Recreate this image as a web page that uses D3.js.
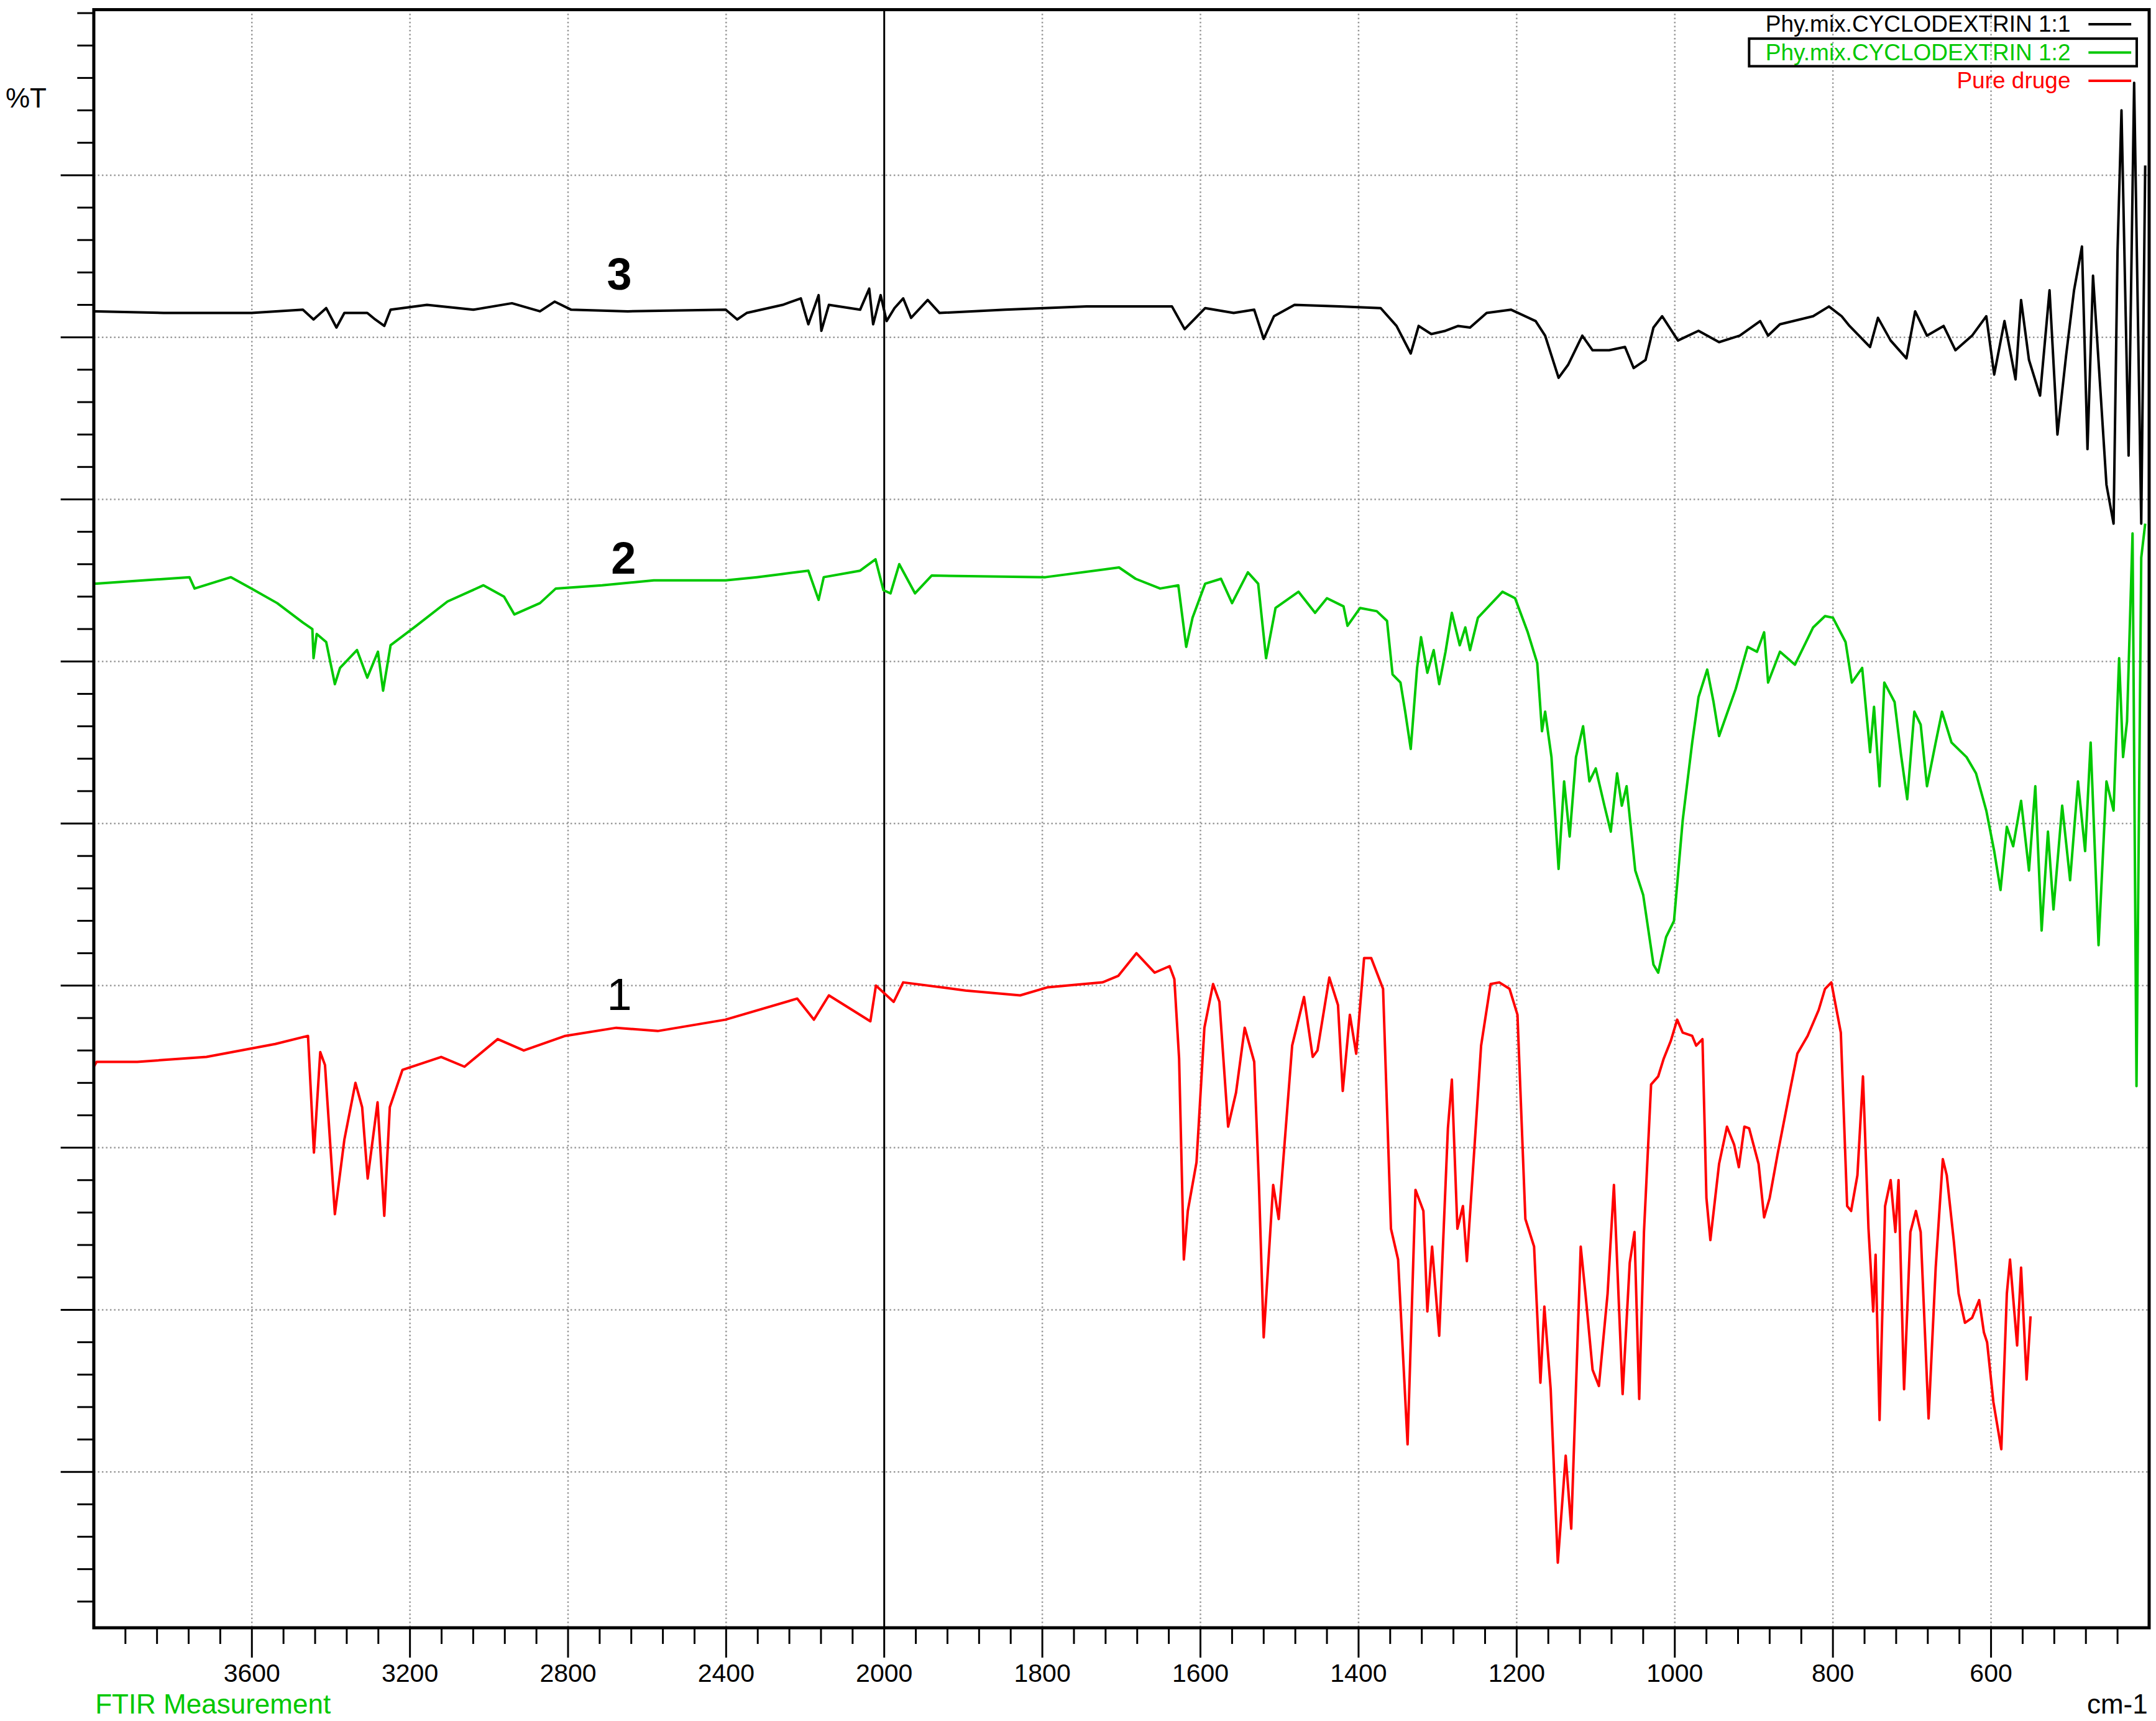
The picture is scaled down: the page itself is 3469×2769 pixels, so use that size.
<!DOCTYPE html>
<meta charset="utf-8">
<style>
  body { margin: 0; background: #fff; }
  text { font-family: "Liberation Sans", Arial, sans-serif; }
</style>
<body>
<svg id="chart" width="3469" height="2769"></svg>
<script src="https://cdnjs.cloudflare.com/ajax/libs/d3/7.8.5/d3.min.js"></script>
<script>
// spectra as [wavenumber cm-1, %T]
var pureDrug = [[4000,35.0],[3993,35.3],[3890,35.3],[3715,35.6],[3541,36.4],[3458,36.9],[3443,29.7],[3427,35.9],[3415,35.1],[3390,25.9],[3366,30.5],[3338,34.0],[3321,32.5],[3307,28.1],[3282,32.8],[3265,25.8],[3251,32.5],[3219,34.8],[3121,35.6],[3062,35.0],[2978,36.7],[2912,36.0],[2807,36.9],[2678,37.4],[2573,37.2],[2402,37.9],[2220,39.2],[2178,37.9],[2140,39.4],[2035,37.8],[2021,40.0],[1988,39.0],[1976,40.2],[1897,39.7],[1828,39.4],[1793,39.9],[1724,40.2],[1704,40.6],[1681,42.0],[1658,40.8],[1639,41.2],[1633,40.4],[1627,35.5],[1621,23.1],[1616,26.1],[1605,29.1],[1595,37.4],[1584,40.1],[1576,39.0],[1565,31.3],[1555,33.4],[1544,37.4],[1532,35.3],[1526,27.7],[1520,18.3],[1508,27.7],[1501,25.6],[1484,36.3],[1469,39.3],[1458,35.6],[1452,36.0],[1437,40.5],[1426,38.8],[1420,33.5],[1411,38.2],[1403,35.8],[1393,41.7],[1384,41.7],[1369,39.8],[1359,25.0],[1350,23.1],[1338,11.7],[1328,27.4],[1318,26.1],[1313,19.9],[1307,23.9],[1298,18.4],[1287,31.2],[1282,34.2],[1275,25.0],[1268,26.4],[1263,23.0],[1254,29.6],[1245,36.3],[1233,40.1],[1222,40.2],[1209,39.8],[1199,38.2],[1189,25.6],[1178,23.9],[1170,15.5],[1165,20.2],[1157,15.1],[1148,4.4],[1138,11.0],[1131,6.5],[1119,23.9],[1113,21.0],[1104,16.3],[1096,15.3],[1085,21.0],[1077,27.7],[1066,14.8],[1057,22.9],[1051,24.8],[1045,14.5],[1039,24.8],[1030,33.9],[1021,34.4],[1014,35.5],[1005,36.6],[997,37.9],[990,37.1],[978,36.9],[973,36.3],[965,36.7],[960,26.9],[955,24.3],[944,29.0],[934,31.3],[925,30.2],[919,28.8],[912,31.3],[906,31.2],[894,29.0],[887,25.7],[880,26.9],[870,29.6],[854,33.6],[845,35.8],[832,36.9],[818,38.5],[810,39.8],[802,40.2],[790,37.1],[782,26.4],[777,26.1],[769,28.3],[762,34.4],[755,25.0],[749,19.9],[746,23.4],[741,13.2],[734,26.4],[727,28.0],[721,24.8],[717,28.0],[710,15.1],[702,24.8],[695,26.1],[689,24.8],[679,13.3],[670,22.6],[661,29.3],[656,28.3],[647,24.2],[641,21.0],[633,19.2],[624,19.5],[615,20.6],[609,18.6],[605,18.0],[597,14.3],[587,11.4],[580,21.0],[576,23.1],[567,17.8],[562,22.6],[555,15.7],[550,19.6]];

var mix12 = [[4000,64.8],[3993,64.8],[3758,65.2],[3745,64.5],[3653,65.2],[3601,64.5],[3536,63.6],[3471,62.4],[3447,62.0],[3444,60.2],[3436,61.7],[3412,61.2],[3390,58.6],[3377,59.6],[3334,60.7],[3308,59.0],[3281,60.6],[3268,58.2],[3249,61.0],[3184,62.2],[3105,63.7],[3014,64.7],[2962,64.0],[2936,62.9],[2871,63.6],[2831,64.5],[2714,64.7],[2583,65.0],[2401,65.0],[2322,65.2],[2257,65.4],[2192,65.6],[2166,63.8],[2153,65.2],[2061,65.6],[2022,66.3],[2002,64.4],[1992,64.2],[1981,66.0],[1961,64.2],[1940,65.3],[1796,65.2],[1703,65.8],[1682,65.1],[1651,64.5],[1628,64.7],[1618,60.9],[1610,62.7],[1594,64.8],[1574,65.1],[1560,63.6],[1540,65.5],[1527,64.8],[1517,60.2],[1505,63.3],[1476,64.3],[1455,63.0],[1440,63.9],[1419,63.4],[1414,62.2],[1398,63.3],[1377,63.1],[1364,62.5],[1357,59.2],[1347,58.7],[1341,56.9],[1334,54.6],[1326,59.6],[1321,61.5],[1313,59.3],[1305,60.7],[1298,58.6],[1290,60.6],[1282,63.0],[1272,61.0],[1265,62.1],[1259,60.7],[1249,62.7],[1218,64.3],[1202,63.9],[1186,61.8],[1174,59.9],[1168,55.7],[1164,56.9],[1156,54.1],[1147,47.2],[1140,52.6],[1133,49.2],[1125,54.1],[1116,56.0],[1108,52.6],[1100,53.4],[1089,51.1],[1081,49.5],[1073,53.1],[1067,51.1],[1061,52.3],[1050,47.1],[1040,45.6],[1027,41.3],[1021,40.8],[1011,43.0],[1001,44.0],[990,50.2],[978,55.0],[970,57.8],[959,59.5],[951,57.5],[944,55.4],[923,58.3],[908,60.9],[896,60.6],[887,61.8],[882,58.7],[867,60.6],[848,59.8],[825,62.1],[810,62.8],[800,62.7],[784,61.2],[776,58.7],[763,59.6],[753,54.4],[748,57.2],[741,52.3],[735,58.7],[722,57.5],[714,54.3],[706,51.5],[697,56.9],[689,56.1],[681,52.3],[670,55.0],[662,56.9],[650,55.0],[631,54.1],[619,53.1],[606,50.8],[596,48.3],[588,45.9],[580,49.8],[572,48.6],[562,51.4],[552,47.1],[544,52.3],[536,43.4],[528,49.5],[521,44.7],[510,51.1],[500,46.5],[490,52.6],[481,48.3],[474,55.0],[464,42.5],[454,52.6],[445,50.8],[438,60.2],[433,54.1],[428,56.3],[421,67.9],[416,33.8],[410,66.4],[405,68.5]];

var mix11 = [[4000,81.6],[3993,81.6],[3823,81.5],[3680,81.5],[3601,81.5],[3471,81.7],[3444,81.1],[3412,81.8],[3386,80.6],[3366,81.5],[3308,81.5],[3288,81.1],[3265,80.7],[3249,81.7],[3157,82.0],[3040,81.7],[2942,82.1],[2871,81.6],[2834,82.2],[2792,81.7],[2649,81.6],[2401,81.7],[2372,81.1],[2348,81.5],[2257,82.0],[2211,82.4],[2192,80.8],[2166,82.6],[2159,80.4],[2140,82.0],[2061,81.7],[2038,83.0],[2028,80.8],[2009,82.6],[1997,81.0],[1987,81.8],[1976,82.4],[1966,81.2],[1945,82.3],[1930,81.5],[1847,81.7],[1744,81.9],[1636,81.9],[1620,80.5],[1594,81.8],[1558,81.5],[1532,81.7],[1520,79.9],[1507,81.3],[1481,82.0],[1424,81.9],[1372,81.8],[1352,80.7],[1334,79.0],[1324,80.7],[1308,80.2],[1290,80.4],[1274,80.7],[1259,80.6],[1238,81.5],[1207,81.7],[1176,81.0],[1164,80.1],[1147,77.5],[1135,78.3],[1117,80.1],[1104,79.2],[1083,79.2],[1063,79.4],[1052,78.1],[1037,78.6],[1027,80.6],[1016,81.3],[996,79.8],[970,80.4],[944,79.7],[918,80.1],[892,81.0],[882,80.1],[867,80.8],[825,81.3],[805,81.9],[789,81.3],[779,80.7],[753,79.4],[743,81.2],[727,79.8],[707,78.7],[696,81.6],[681,80.1],[660,80.7],[645,79.2],[624,80.1],[606,81.3],[596,77.7],[583,81.0],[569,77.4],[562,82.3],[552,78.6],[538,76.4],[526,82.9],[516,74.0],[505,78.9],[495,82.9],[485,85.6],[478,73.1],[471,83.8],[462,77.0],[454,70.9],[445,68.5],[440,85.3],[435,94.0],[426,72.7],[419,95.7],[410,68.5],[405,90.6]];

var xLabelsLeft = [3600, 3200, 2800, 2400, 2000];
var xLabelsRight = [1800, 1600, 1400, 1200, 1000, 800, 600];
var yGrid = [10, 20, 30, 40, 50, 60, 70, 80, 90];
var legendNames = ["Phy.mix.CYCLODEXTRIN 1:1", "Phy.mix.CYCLODEXTRIN 1:2", "Pure druge"];
var colors = ["#000000", "#00c800", "#ff0000"];

var S = 2.2195;
var L = 68 * S, R = 1558 * S, T = 7 * S, B = 1180 * S;
var svg = d3.select("#chart");

// wavenumber axis is expanded 2x below 2000 cm-1
var x = d3.scaleLinear().domain([4000, 2000, 400]).range([L, 641 * S, R]);
var y = d3.scaleLinear().domain([0, 100]).range([1184.5 * S, 9.5 * S]);

var labels = xLabelsLeft.concat(xLabelsRight);
var minorX = d3.range(2080, 4000, 80).filter(function (d) { return d % 400 !== 0; })
    .concat(d3.range(440, 2000, 40).filter(function (d) { return d % 200 !== 0; }));

// grid
svg.append("g").selectAll("line").data(labels.filter(function (d) { return d !== 2000; }))
    .enter().append("line")
    .attr("x1", x).attr("x2", x).attr("y1", T).attr("y2", B)
    .attr("stroke", "#999").attr("stroke-width", 2.5).attr("stroke-dasharray", "2.5,4");
svg.append("g").selectAll("line").data(yGrid).enter().append("line")
    .attr("x1", L).attr("x2", R).attr("y1", y).attr("y2", y)
    .attr("stroke", "#999").attr("stroke-width", 2.5).attr("stroke-dasharray", "2.5,4");
svg.append("line").attr("x1", x(2000)).attr("x2", x(2000)).attr("y1", T).attr("y2", B)
    .attr("stroke", "#000").attr("stroke-width", 3);

// spectra
var line = d3.line().x(function (d) { return x(d[0]); }).y(function (d) { return y(d[1]); });
[mix11, mix12, pureDrug].forEach(function (s, i) {
  svg.append("path").datum(s).attr("d", line).attr("fill", "none")
      .attr("stroke", colors[i]).attr("stroke-width", 4).attr("stroke-linejoin", "round");
});

// frame
svg.append("rect").attr("x", L).attr("y", T).attr("width", R - L).attr("height", B - T)
    .attr("fill", "none").attr("stroke", "#000").attr("stroke-width", 5);

// x axis ticks
svg.append("g").selectAll("line").data(labels).enter().append("line")
    .attr("x1", x).attr("x2", x).attr("y1", B).attr("y2", B + 48)
    .attr("stroke", "#000").attr("stroke-width", 3);
svg.append("g").selectAll("line").data(minorX).enter().append("line")
    .attr("x1", x).attr("x2", x).attr("y1", B).attr("y2", B + 26)
    .attr("stroke", "#000").attr("stroke-width", 3);
svg.append("g").selectAll("text").data(labels).enter().append("text")
    .attr("x", x).attr("y", 1219 * S).attr("text-anchor", "middle")
    .attr("font-size", 41).text(function (d) { return d; });

// y axis ticks (no labels)
svg.append("g").selectAll("line").data(yGrid).enter().append("line")
    .attr("x1", 44 * S).attr("x2", L).attr("y1", y).attr("y2", y)
    .attr("stroke", "#000").attr("stroke-width", 3);
svg.append("g").selectAll("line")
    .data(d3.range(2, 101, 2).filter(function (d) { return d % 10 !== 0 || d === 100; }))
    .enter().append("line")
    .attr("x1", 56 * S).attr("x2", L).attr("y1", y).attr("y2", y)
    .attr("stroke", "#000").attr("stroke-width", 3);

svg.append("text").attr("x", 4 * S).attr("y", 78 * S).attr("font-size", 44).text("%T");
svg.append("text").attr("x", 1557 * S).attr("y", 1242 * S).attr("text-anchor", "end")
    .attr("font-size", 44).text("cm-1");
svg.append("text").attr("x", 69 * S).attr("y", 1242 * S).attr("font-size", 44)
    .attr("fill", colors[1]).text("FTIR Measurement");

// curve numbers
svg.append("text").attr("x", 449 * S).attr("y", 210 * S).attr("text-anchor", "middle")
    .attr("font-size", 72).attr("font-weight", "bold").text("3");
svg.append("text").attr("x", 452 * S).attr("y", 416 * S).attr("text-anchor", "middle")
    .attr("font-size", 72).attr("font-weight", "bold").text("2");
svg.append("text").attr("x", 449 * S).attr("y", 732 * S).attr("text-anchor", "middle")
    .attr("font-size", 72).text("1");

// legend
var lg = svg.append("g");
legendNames.forEach(function (name, i) {
  var yy = (23 + i * 20.5) * S;
  lg.append("text").attr("x", 1501 * S).attr("y", yy).attr("text-anchor", "end")
      .attr("font-size", 37).attr("fill", colors[i]).text(name);
  lg.append("line").attr("x1", 1514 * S).attr("x2", 1545 * S)
      .attr("y1", yy - 12).attr("y2", yy - 12)
      .attr("stroke", colors[i]).attr("stroke-width", 4);
});
lg.append("rect").attr("x", 1268 * S).attr("y", 28 * S).attr("width", 281 * S).attr("height", 20 * S)
    .attr("fill", "none").attr("stroke", "#000").attr("stroke-width", 4);
</script>
